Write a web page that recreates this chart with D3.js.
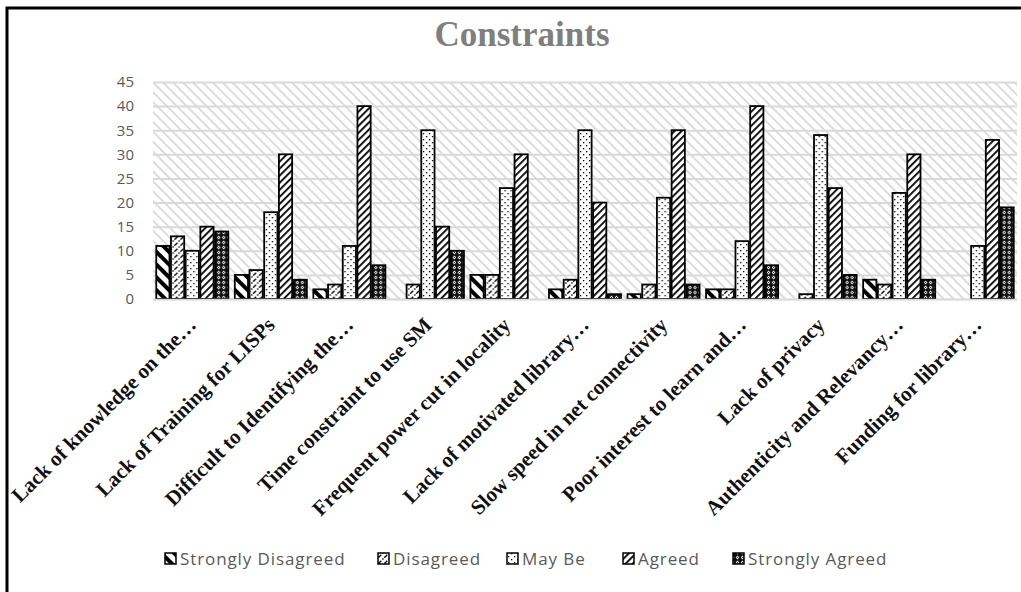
<!DOCTYPE html>
<html>
<head>
<meta charset="utf-8">
<script src="https://cdn.jsdelivr.net/npm/d3@7"></script>
<style>
  html, body { margin: 0; padding: 0; background: #fff; }
  svg { display: block; }
</style>
</head>
<body>
<svg id="chart" width="1021" height="592"></svg>
<script>
// ---- data ----
const categories = [
  "Lack of knowledge on  the…",
  "Lack of Training for LISPs",
  "Difficult to Identifying the…",
  "Time constraint to use SM",
  "Frequent power cut in locality",
  "Lack of motivated library…",
  "Slow speed in net connectivity",
  "Poor interest to learn and…",
  "Lack of privacy",
  "Authenticity and Relevancy…",
  "Funding for library…"
];
const seriesNames = ["Strongly Disagreed", "Disagreed", "May Be", "Agreed", "Strongly Agreed"];
const stronglyDisagreed = [11, 5, 2, 0, 5, 2, 1, 2, 0, 4, 0];
const disagreed         = [13, 6, 3, 3, 5, 4, 3, 2, 1, 3, 0];
const mayBe             = [10, 18, 11, 35, 23, 35, 21, 12, 34, 22, 11];
const agreed            = [15, 30, 40, 15, 30, 20, 35, 40, 23, 30, 33];
const stronglyAgreed    = [14, 4, 7, 10, 0, 1, 3, 7, 5, 4, 19];
const yTicks = [0, 5, 10, 15, 20, 25, 30, 35, 40, 45];
const titleText = "Constraints";

const seriesValues = [stronglyDisagreed, disagreed, mayBe, agreed, stronglyAgreed];
const patternIds = ["pSD", "pD", "pMB", "pA", "pSA"];

// ---- layout ----
const svg = d3.select("#chart");
const plot = { left: 153, right: 1017, top: 82, bottom: 299 };

// ---- patterns ----
const defs = svg.append("defs");
// plot background hatch ("\" light grey)
const bg = defs.append("pattern").attr("id", "bgHatch").attr("patternUnits", "userSpaceOnUse")
  .attr("width", 7).attr("height", 7).attr("patternTransform", "rotate(-45)");
bg.append("rect").attr("width", 7).attr("height", 7).attr("fill", "#fff");
bg.append("rect").attr("x", 0).attr("y", 0).attr("width", 2).attr("height", 7).attr("fill", "#dcdcdc");

// Strongly Disagreed: wide downward diagonal
const p0 = defs.append("pattern").attr("id", "pSD").attr("patternUnits", "userSpaceOnUse")
  .attr("width", 9).attr("height", 9).attr("patternTransform", "rotate(-45)");
p0.append("rect").attr("width", 9).attr("height", 9).attr("fill", "#fff");
p0.append("rect").attr("width", 4).attr("height", 9).attr("fill", "#000");

// Disagreed: dashed upward diagonal with dots
const p1 = defs.append("pattern").attr("id", "pD").attr("patternUnits", "userSpaceOnUse")
  .attr("width", 6).attr("height", 6);
p1.append("rect").attr("width", 6).attr("height", 6).attr("fill", "#fff");
p1.append("path").attr("d", "M0.3,5.7 L3.3,2.7").attr("stroke", "#000").attr("stroke-width", 1.3).attr("fill", "none");
p1.append("rect").attr("x", 4.2).attr("y", 0.3).attr("width", 1.4).attr("height", 1.4).attr("fill", "#000");

// May Be: sparse dots
const p2 = defs.append("pattern").attr("id", "pMB").attr("patternUnits", "userSpaceOnUse")
  .attr("width", 6).attr("height", 6);
p2.append("rect").attr("width", 6).attr("height", 6).attr("fill", "#fff");
p2.append("rect").attr("x", 1).attr("y", 1).attr("width", 1.3).attr("height", 1.3).attr("fill", "#000");
p2.append("rect").attr("x", 4).attr("y", 4).attr("width", 1.3).attr("height", 1.3).attr("fill", "#000");

// Agreed: dark upward diagonal
const p3 = defs.append("pattern").attr("id", "pA").attr("patternUnits", "userSpaceOnUse")
  .attr("width", 5).attr("height", 5).attr("patternTransform", "rotate(45)");
p3.append("rect").attr("width", 5).attr("height", 5).attr("fill", "#fff");
p3.append("rect").attr("width", 1.8).attr("height", 5).attr("fill", "#000");

// Strongly Agreed: dark with white diamonds
const p4 = defs.append("pattern").attr("id", "pSA").attr("patternUnits", "userSpaceOnUse")
  .attr("width", 5).attr("height", 5);
p4.append("rect").attr("width", 5).attr("height", 5).attr("fill", "#111");
p4.append("path").attr("d", "M2.5,0.6 L4.2,2.5 L2.5,4.4 L0.8,2.5 Z").attr("fill", "#fff");
p4.append("rect").attr("x", 2).attr("y", 2).attr("width", 1).attr("height", 1).attr("fill", "#111");

// ---- frame ----
svg.append("rect").attr("x", 7).attr("y", 8).attr("width", 1040).attr("height", 610)
  .attr("fill", "#fff").attr("stroke", "#000").attr("stroke-width", 3);

// ---- title ----
svg.append("text").attr("x", 522).attr("y", 46).attr("text-anchor", "middle")
  .attr("font-family", "Liberation Serif, serif").attr("font-weight", "bold")
  .attr("font-size", 35).attr("fill", "#7f7f7f").text(titleText);

// ---- scales ----
const x0 = d3.scaleBand().domain(categories).range([plot.left, plot.right])
  .paddingInner(0.0828).paddingOuter(0.0414);
const x1 = d3.scaleBand().domain(seriesNames).range([0, x0.bandwidth()]).paddingInner(0.1).paddingOuter(0);
const y = d3.scaleLinear().domain([0, 45]).range([plot.bottom, plot.top]);

// ---- plot background ----
svg.append("rect").attr("x", plot.left).attr("y", plot.top)
  .attr("width", plot.right - plot.left).attr("height", plot.bottom - plot.top)
  .attr("fill", "url(#bgHatch)");

// ---- gridlines + y axis ----
const yAxis = d3.axisLeft(y).tickValues(yTicks).tickSize(-(plot.right - plot.left)).tickPadding(19);
const gy = svg.append("g").attr("transform", `translate(${plot.left},0)`).call(yAxis);
gy.select(".domain").remove();
gy.selectAll(".tick line").attr("stroke", "#d9d9d9").attr("stroke-width", 2);
gy.selectAll(".tick text").attr("font-family", "Open Sans, sans-serif").attr("font-size", 15)
  .attr("fill", "#595959");

// ---- bars ----
const rows = categories.map((c, i) => ({ cat: c, vals: seriesNames.map((s, k) => ({ s, k, v: seriesValues[k][i] })) }));
const groups = svg.append("g").selectAll("g").data(rows).join("g")
  .attr("transform", d => `translate(${x0(d.cat)},0)`);
groups.selectAll("rect").data(d => d.vals.filter(e => e.v > 0)).join("rect")
  .attr("x", e => x1(e.s)).attr("width", x1.bandwidth())
  .attr("y", e => y(e.v)).attr("height", e => y(0) - y(e.v))
  .attr("fill", e => `url(#${patternIds[e.k]})`)
  .attr("stroke", "#000").attr("stroke-width", 1.8);

// ---- x axis labels ----
const gx = svg.append("g").attr("transform", `translate(0,${plot.bottom})`)
  .call(d3.axisBottom(x0).tickSize(0).tickPadding(0));
gx.select(".domain").attr("stroke", "#d9d9d9").attr("stroke-width", 1.5);
gx.selectAll(".tick text")
  .attr("font-family", "Liberation Serif, serif").attr("font-weight", "bold")
  .attr("font-size", 21).attr("fill", "#111")
  .attr("text-anchor", "end")
  .attr("dy", "0.35em")
  .attr("transform", "translate(0,22) rotate(-45)");

// ---- legend ----
const legendX = [165, 378, 507, 623, 733];
const lg = svg.append("g");
seriesNames.forEach((s, k) => {
  lg.append("rect").attr("x", legendX[k]).attr("y", 553).attr("width", 11).attr("height", 11)
    .attr("fill", `url(#${patternIds[k]})`).attr("stroke", "#000").attr("stroke-width", 1.5);
  lg.append("text").attr("x", legendX[k] + 15).attr("y", 565)
    .attr("font-family", "Open Sans, sans-serif").attr("font-size", 17).attr("letter-spacing", 0.9)
    .attr("fill", "#595959")
    .text(s);
});
</script>
</body>
</html>
